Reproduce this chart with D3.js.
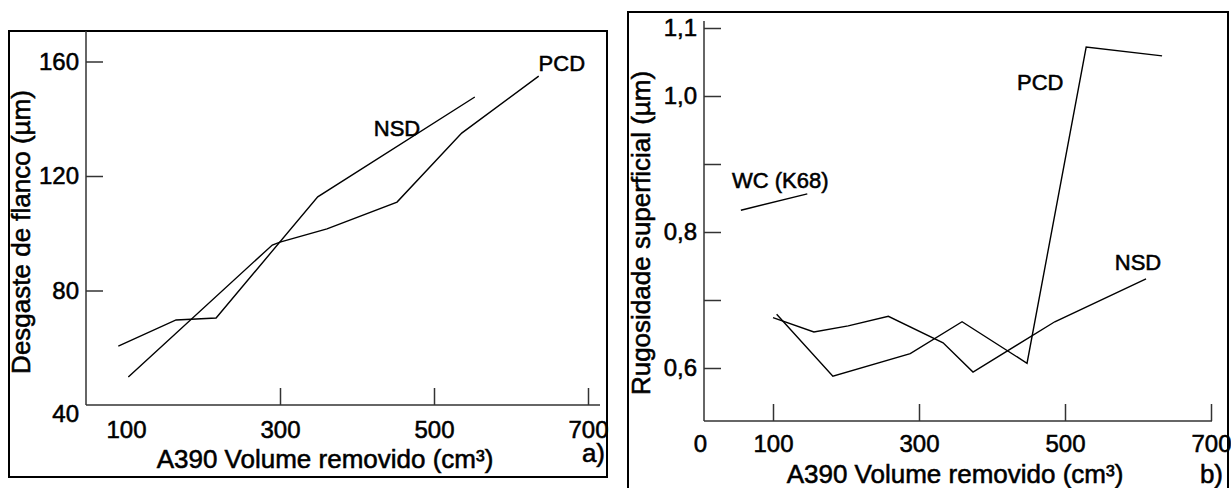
<!DOCTYPE html>
<html>
<head>
<meta charset="utf-8">
<script src="https://cdn.jsdelivr.net/npm/d3@7"></script>
<style>
  body { margin: 0; background: #fff; }
  svg { display: block; }
  text {
    font-family: "Liberation Sans", Arial, Helvetica, sans-serif;
    fill: #000;
    stroke: #000;
    stroke-width: 0.55px;
  }
</style>
</head>
<body>
<svg id="chart" width="1231" height="488"></svg>
<script>
// ---- panel a) flank wear vs removed volume ----
const wearNsdVolume = [90, 165, 217, 349, 553];
const wearNsdValue = [60.6, 69.7, 70.4, 112.7, 147.6];
const wearPcdVolume = [103, 290, 300, 361, 452, 536, 636];
const wearPcdValue = [49.8, 95.9, 96.9, 101.5, 110.9, 135.0, 154.9];
const wearXTickLabels = [100, 300, 500, 700];
const wearXTickMarks = [300, 500, 700];
const wearYTickLabels = [40, 80, 120, 160];
const wearYTickMarks = [80, 120, 160];

// ---- panel b) surface roughness vs removed volume ----
const roughNsdVolume = [100, 156, 203, 258, 333, 374, 486, 611];
const roughNsdValue = [0.674, 0.653, 0.662, 0.676, 0.637, 0.594, 0.668, 0.731];
const roughPcdVolume = [105, 182, 288, 359, 448, 529, 633];
const roughPcdValue = [0.679, 0.588, 0.621, 0.668, 0.607, 1.072, 1.059];
const roughWcVolume = [56, 147];
const roughWcValue = [0.832, 0.856];
const roughXTickLabels = [0, 100, 300, 500, 700];
const roughXTickMarks = [100, 300, 500, 700];
const roughYTickLabels = [0.6, 0.8, 1.0, 1.1];
const roughYTickMarks = [0.6, 0.7, 0.8, 0.9, 1.0, 1.1];

const svg = d3.select('#chart');
const zip = (xs, ys) => xs.map((x, i) => [x, ys[i]]);
const commaDecimal = d => d3.format('.1f')(d).replace('.', ',');

function styleLabels(s) {
    s.select('.domain').remove();
    s.selectAll('text')
        .attr('font-size', 24)
        .attr('font-family', null)
        .attr('fill', '#000');
}

function drawPanel(cfg) {
    const g = svg.append('g');
    const x = d3.scaleLinear().domain(cfg.xDomain).range(cfg.xRange);
    const y = d3.scaleLinear().domain(cfg.yDomain).range(cfg.yRange);

    g.append('rect')
        .attr('x', cfg.frame[0]).attr('y', cfg.frame[1])
        .attr('width', cfg.frame[2]).attr('height', cfg.frame[3])
        .attr('fill', 'none').attr('stroke', '#000').attr('stroke-width', 2);

    // axis lines
    g.append('line')
        .attr('x1', cfg.axisX).attr('x2', cfg.axisX)
        .attr('y1', cfg.axisTop).attr('y2', cfg.axisY)
        .attr('stroke', '#333').attr('stroke-width', 1.5);
    g.append('line')
        .attr('x1', cfg.axisX).attr('x2', cfg.axisRight)
        .attr('y1', cfg.axisY).attr('y2', cfg.axisY)
        .attr('stroke', '#333').attr('stroke-width', 1.5);

    // tick marks point into the plot
    g.append('g')
        .attr('transform', `translate(0,${cfg.axisY})`)
        .attr('color', '#333')
        .call(d3.axisBottom(x).tickValues(cfg.xTickMarks).tickSize(-17).tickFormat(''))
        .call(s => s.select('.domain').remove())
        .call(s => s.selectAll('line').attr('stroke-width', 1.5));
    g.append('g')
        .attr('transform', `translate(${cfg.axisX},0)`)
        .attr('color', '#333')
        .call(d3.axisLeft(y).tickValues(cfg.yTickMarks).tickSize(-17).tickFormat(''))
        .call(s => s.select('.domain').remove())
        .call(s => s.selectAll('line').attr('stroke-width', 1.5));

    // tick labels
    g.append('g')
        .attr('transform', `translate(0,${cfg.axisY})`)
        .call(d3.axisBottom(x).tickValues(cfg.xTickLabels).tickSize(0).tickPadding(cfg.xPad).tickFormat(cfg.xFormat))
        .call(styleLabels);
    g.append('g')
        .attr('transform', `translate(${cfg.axisX},0)`)
        .call(d3.axisLeft(y).tickValues(cfg.yTickLabels).tickSize(0).tickPadding(7).tickFormat(cfg.yFormat))
        .call(styleLabels)
        .call(s => s.selectAll('.tick').filter(d => d === cfg.yDomain[0]).select('text').attr('dy', cfg.bottomLabelDy));

    // titles
    g.append('text')
        .attr('x', cfg.xTitle[0]).attr('y', cfg.xTitle[1])
        .attr('text-anchor', 'middle').attr('font-size', 26)
        .text('A390 Volume removido (cm³)');
    g.append('text')
        .attr('transform', `translate(${cfg.yTitle[0]},${cfg.yTitle[1]}) rotate(-90)`)
        .attr('text-anchor', 'middle').attr('font-size', 26)
        .text(cfg.yLabel);
    g.append('text')
        .attr('x', cfg.tag[0]).attr('y', cfg.tag[1])
        .attr('text-anchor', 'end').attr('font-size', 26)
        .text(cfg.tagText);

    const line = d3.line().x(d => x(d[0])).y(d => y(d[1]));
    cfg.series.forEach(s => {
        g.append('path')
            .datum(s.points)
            .attr('d', line)
            .attr('fill', 'none')
            .attr('stroke', '#000')
            .attr('stroke-width', 1.4);
        g.append('text')
            .attr('x', x(s.labelAt[0])).attr('y', y(s.labelAt[1]))
            .attr('dy', '0.36em')
            .attr('text-anchor', 'middle')
            .attr('font-size', 22)
            .text(s.name);
    });
}

drawPanel({
    frame: [9, 31, 598, 446],
    axisX: 86, axisY: 405, axisTop: 31, axisRight: 600,
    xDomain: [100, 700], xRange: [126, 588],
    yDomain: [40, 160], yRange: [405, 61.5],
    xTickLabels: wearXTickLabels, xTickMarks: wearXTickMarks,
    yTickLabels: wearYTickLabels, yTickMarks: wearYTickMarks,
    xFormat: d3.format('d'), yFormat: d3.format('d'), xPad: 16,
    bottomLabelDy: '0.7em',
    xTitle: [325, 468], yTitle: [30, 232],
    yLabel: 'Desgaste de flanco (µm)',
    tag: [605, 462], tagText: 'a)',
    series: [
        { name: 'NSD', points: zip(wearNsdVolume, wearNsdValue), labelAt: [452, 136.8] },
        { name: 'PCD', points: zip(wearPcdVolume, wearPcdValue), labelAt: [666, 159.5] },
    ],
});

drawPanel({
    frame: [628, 12, 600, 500],
    axisX: 704, axisY: 421, axisTop: 21, axisRight: 1212,
    xDomain: [0, 700], xRange: [700, 1211],
    yDomain: [0.6, 1.1], yRange: [368, 28],
    xTickLabels: roughXTickLabels, xTickMarks: roughXTickMarks,
    yTickLabels: roughYTickLabels, yTickMarks: roughYTickMarks,
    xFormat: d3.format('d'), yFormat: commaDecimal, xPad: 14,
    bottomLabelDy: '0.32em',
    xTitle: [955, 483], yTitle: [650, 233],
    yLabel: 'Rugosidade superficial (µm)',
    tag: [1223, 483], tagText: 'b)',
    series: [
        { name: 'WC (K68)', points: zip(roughWcVolume, roughWcValue), labelAt: [110, 0.876] },
        { name: 'PCD', points: zip(roughPcdVolume, roughPcdValue), labelAt: [466, 1.021] },
        { name: 'NSD', points: zip(roughNsdVolume, roughNsdValue), labelAt: [600, 0.756] },
    ],
});
</script>
</body>
</html>
